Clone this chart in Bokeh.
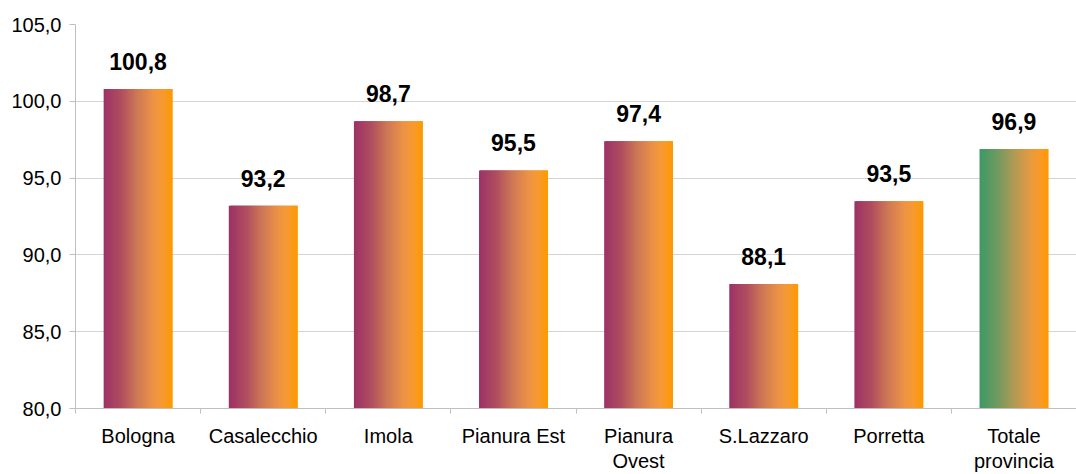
from bokeh.plotting import figure
from bokeh.models import (ColumnDataSource, Range1d, LinearAxis, FixedTicker, LabelSet)
from bokeh.core.properties import value
from bokeh.embed import file_html
from bokeh.resources import INLINE

# ---- data ----
categories = ["Bologna", "Casalecchio", "Imola", "Pianura Est", "Pianura Ovest",
              "S.Lazzaro", "Porretta", "Totale provincia"]
values = [100.8, 93.2, 98.7, 95.5, 97.4, 88.1, 93.5, 96.9]
value_labels = ["100,8", "93,2", "98,7", "95,5", "97,4", "88,1", "93,5", "96,9"]
label_line1 = ["Bologna", "Casalecchio", "Imola", "Pianura Est", "Pianura",
               "S.Lazzaro", "Porretta", "Totale"]
label_line2 = ["", "", "", "", "Ovest", "", "", "provincia"]
y_ticks = [80, 85, 90, 95, 100, 105]
y_tick_labels = ["80,0", "85,0", "90,0", "95,0", "100,0", "105,0"]
is_total = [False, False, False, False, False, False, False, True]

FONT = "Liberation Sans"
Y0 = 80
n = len(categories)
centers = [i + 0.5 for i in range(n)]  # category slot centres on a 0..n axis

# ---- gradient helpers (style only) ----
purple_stops = [(0.0, (156, 50, 102)), (0.25, (176, 78, 95)), (0.5, (208, 122, 85)),
                (0.72, (236, 147, 70)), (0.85, (246, 154, 50)), (1.0, (255, 153, 0))]
green_stops = [(0.0, (61, 153, 102)), (0.25, (110, 154, 96)), (0.5, (176, 154, 85)),
               (0.75, (233, 154, 64)), (0.88, (248, 154, 40)), (1.0, (255, 153, 0))]


def interp(stops, t):
    for (t0, c0), (t1, c1) in zip(stops[:-1], stops[1:]):
        if t <= t1:
            f = (t - t0) / (t1 - t0) if t1 > t0 else 0
            return "#%02x%02x%02x" % tuple(int(round(a + (b - a) * f)) for a, b in zip(c0, c1))
    c = stops[-1][1]
    return "#%02x%02x%02x" % c


p = figure(width=1076, height=474, x_range=Range1d(0, n),
           y_range=Range1d(80, 105), output_backend="svg", toolbar_location=None,
           x_axis_location=None, min_border_left=75, min_border_top=24,
           min_border_bottom=66, min_border_right=0)
p.outline_line_color = None
p.xgrid.grid_line_color = None
p.ygrid.grid_line_color = "#d4d4d4"
p.ygrid.ticker = FixedTicker(ticks=y_ticks)

# y axis
ya = p.yaxis[0]
ya.ticker = FixedTicker(ticks=y_ticks)
ya.major_label_overrides = {t: l for t, l in zip(y_ticks, y_tick_labels)}
ya.axis_line_color = "#c0c0c0"
ya.major_tick_line_color = "#c0c0c0"
ya.major_tick_out = 6
ya.major_tick_in = 0
ya.minor_tick_line_color = None
ya.major_label_standoff = 8
ya.major_label_text_font = FONT
ya.major_label_text_font_size = "20px"
ya.major_label_text_color = "#000000"

# x tick-mark axis at category boundaries
bounds = list(range(n + 1))
ta = LinearAxis(ticker=FixedTicker(ticks=bounds),
                major_label_overrides={b: "" for b in bounds})
ta.axis_line_color = "#c0c0c0"
ta.major_tick_line_color = "#c0c0c0"
ta.major_tick_out = 5
ta.major_tick_in = 0
ta.minor_tick_line_color = None
ta.major_label_standoff = 0
ta.major_label_text_font_size = "1px"
p.add_layout(ta, "below")


def label_axis(ticks, labels, standoff):
    ax = LinearAxis(ticker=FixedTicker(ticks=ticks),
                    major_label_overrides={c: l for c, l in zip(ticks, labels)})
    ax.axis_line_color = None
    ax.major_tick_line_color = None
    ax.minor_tick_line_color = None
    ax.major_tick_out = 0
    ax.major_tick_in = 0
    ax.major_label_standoff = standoff
    ax.major_label_text_font = FONT
    ax.major_label_text_font_size = "20px"
    ax.major_label_text_color = "#000000"
    return ax


# category labels: first line, then second line for two-line names
p.add_layout(label_axis(centers, label_line1, 11), "below")
c2 = [c for c, l in zip(centers, label_line2) if l]
l2 = [l for l in label_line2 if l]
p.add_layout(label_axis(c2, l2, 0), "below")

# bars with horizontal gradient drawn as thin overlapping strips
bar_w = 0.55
N = 60
sw = bar_w / N
for i in range(N):
    t = (i + 0.5) / N
    colors = [interp(green_stops if tot else purple_stops, t) for tot in is_total]
    lefts = [c - bar_w / 2 + i * sw for c in centers]
    rights = [min(l + 2.5 * sw, c + bar_w / 2) for l, c in zip(lefts, centers)]
    src = ColumnDataSource(dict(left=lefts, right=rights, top=values, color=colors))
    p.quad(left="left", right="right", top="top", bottom=Y0,
           fill_color="color", line_color=None, source=src)

# value labels
lab_src = ColumnDataSource(dict(x=centers, top=values, lab=value_labels))
p.add_layout(LabelSet(x="x", y="top", text="lab", source=lab_src, y_offset=19,
                      text_align="center", text_baseline="alphabetic",
                      text_font=value(FONT), text_font_size=value("23px"),
                      text_font_style="bold", text_color="#000000"))

open("out.html", "w").write(file_html(p, INLINE))
